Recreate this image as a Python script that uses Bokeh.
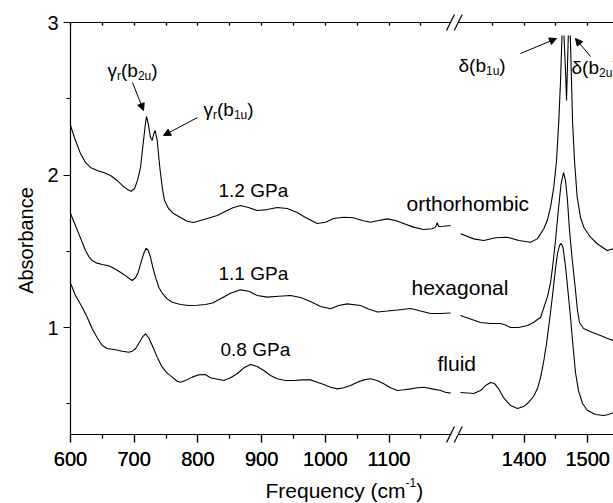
import math
from bokeh.plotting import figure
from bokeh.models import Range1d, LinearAxis, FixedTicker, Label, Arrow, NormalHead
from bokeh.embed import file_html
from bokeh.resources import INLINE

nan = float("nan")

# ---------------- data (frequency in cm^-1, absorbance) ----------------
# the axis skips 1202..1290 cm^-1
GAP = 88
BREAK = 1202

ortho_lo_x = [600, 607.8, 615.7, 623.5, 631.4, 641.9, 651.8, 662.8, 673.3, 681.2, 689.0, 695.3,
              700.5, 705.2, 709.9, 714.1, 717.3, 719.3, 722.0, 725.6, 728.3, 730.8, 733.0, 736.1,
              740.2, 744.0, 747.6, 753.9, 761.7, 772.7, 783.2, 793.1, 804.1, 814.6, 830.3, 846.0,
              855.9, 866.9, 879.4, 893.1, 908.8, 924.5, 940.2, 955.9, 968.9, 987.3, 1000.3,
              1012.9, 1028.6, 1044.3, 1058.0, 1071.0, 1083.5, 1097.2, 1110.2, 1122.8, 1138.5,
              1154.2, 1167.8, 1173.0, 1175.7, 1178.2, 1185.6, 1196.6]
ortho_lo_y = [2.325, 2.227, 2.141, 2.083, 2.050, 2.030, 2.017, 1.997, 1.965, 1.932, 1.906, 1.894,
              1.912, 1.965, 2.050, 2.207, 2.325, 2.384, 2.338, 2.246, 2.227, 2.273, 2.292, 2.227,
              2.050, 1.919, 1.833, 1.781, 1.748, 1.722, 1.698, 1.689, 1.702, 1.716, 1.735, 1.768,
              1.788, 1.801, 1.788, 1.768, 1.774, 1.788, 1.781, 1.755, 1.722, 1.683, 1.691,
              1.716, 1.724, 1.720, 1.702, 1.691, 1.702, 1.713, 1.702, 1.683, 1.659,
              1.643, 1.648, 1.659, 1.688, 1.663, 1.665, 1.670]
ortho_hi_x = [1300.3, 1321.1, 1336.8, 1355.2, 1373.6, 1391.8, 1410.2, 1420.7, 1425.9, 1431.0,
              1436.4, 1441.6, 1446.7, 1451.0, 1454.6, 1457.3, 1459.6, nan, 1462.7, 1465.1, 1466.7,
              1468.2, 1469.5, nan, 1472.6, 1474.5, 1476.1, 1479.2, 1483.4, 1488.6, 1493.8, 1504.3,
              1514.8, 1530.5, 1540.5]
ortho_hi_y = [1.615, 1.582, 1.571, 1.589, 1.593, 1.571, 1.560, 1.582, 1.615, 1.648,
              1.702, 1.790, 1.921, 2.096, 2.358, 2.620, 2.915, nan, 2.915, 2.685, 2.489,
              2.718, 2.915, nan, 2.915, 2.620, 2.358, 2.096, 1.855, 1.724, 1.658, 1.593,
              1.550, 1.506, 1.517]

hexa_lo_x = [600, 607.8, 613.0, 618.4, 623.5, 628.7, 634.1, 641.9, 649.8, 660.1, 668.0, 675.8,
             683.7, 691.5, 696.9, 702.0, 706.3, 711.5, 715.7, 718.8, 722.0, 725.6, 729.2, 733.4,
             738.6, 744.0, 751.8, 759.7, 772.7, 785.7, 798.9, 811.9, 822.9, 835.5, 851.2, 866.9,
             879.9, 893.1, 908.8, 927.0, 945.4, 961.1, 976.8, 992.5, 1008.2, 1020.7, 1034.4,
             1055.3, 1067.8, 1082.0, 1097.7, 1113.4, 1133.8, 1149.5, 1165.2, 1180.9, 1196.6]
hexa_lo_y = [1.748, 1.670, 1.615, 1.560, 1.506, 1.466, 1.440, 1.423, 1.414, 1.406, 1.390, 1.370,
             1.349, 1.324, 1.309, 1.327, 1.364, 1.440, 1.495, 1.521, 1.506, 1.462, 1.396, 1.331,
             1.265, 1.226, 1.189, 1.167, 1.152, 1.145, 1.147, 1.152, 1.162, 1.189, 1.226, 1.248,
             1.239, 1.211, 1.200, 1.206, 1.211, 1.198, 1.172, 1.139, 1.124, 1.145, 1.156,
             1.145, 1.122, 1.103, 1.109, 1.116, 1.126, 1.109, 1.093, 1.093, 1.096]
hexa_hi_x = [1300.3, 1316.0, 1331.7, 1347.4, 1363.1, 1370.9, 1378.8, 1391.3, 1405.4, 1414.9,
             1421.1, 1425.9, 1432.1, 1436.8, 1441.6, 1444.7, 1449.4, 1454.1, 1458.0, 1462.0,
             1465.1, 1468.2, 1471.4, 1476.1, 1480.8, 1483.9, 1487.1, 1493.4, 1507.5, 1520.0,
             1531.0, 1540.5]
hexa_hi_y = [1.080, 1.057, 1.034, 1.027, 1.027, 1.018, 1.001, 1.001, 1.014, 1.034,
             1.054, 1.067, 1.145, 1.204, 1.296, 1.394, 1.571, 1.781, 1.938, 2.017,
             1.965, 1.834, 1.637, 1.427, 1.244, 1.113, 1.034, 0.995, 0.968, 0.949,
             0.929, 0.916]

fluid_lo_x = [600, 601.6, 607.8, 618.4, 626.2, 634.1, 641.9, 649.8, 657.6, 670.6, 681.2, 691.5,
              696.9, 702.0, 708.3, 713.5, 717.7, 722.9, 728.3, 736.1, 744.0, 751.8, 759.7, 767.5,
              772.7, 780.5, 791.1, 801.4, 811.5, 819.8, 840.7, 851.2, 861.7, 872.1, 882.6, 893.1,
              903.5, 914.0, 924.5, 937.5, 950.6, 963.8, 976.8, 987.3, 997.7, 1008.2, 1018.7,
              1029.1, 1039.6, 1050.1, 1060.5, 1071.0, 1081.5, 1091.8, 1102.4, 1112.9, 1123.2,
              1133.8, 1144.3, 1154.6, 1167.8, 1180.9, 1188.7, 1196.6]
fluid_lo_y = [1.290, 1.276, 1.211, 1.134, 1.069, 0.993, 0.934, 0.883, 0.864, 0.855, 0.846, 0.839,
              0.846, 0.862, 0.905, 0.942, 0.960, 0.934, 0.883, 0.807, 0.741, 0.702, 0.676, 0.649,
              0.643, 0.654, 0.676, 0.691, 0.693, 0.672, 0.654, 0.672, 0.698, 0.737, 0.759, 0.746,
              0.719, 0.687, 0.665, 0.654, 0.654, 0.658, 0.658, 0.643, 0.628, 0.610, 0.599,
              0.606, 0.621, 0.643, 0.658, 0.665, 0.654, 0.632, 0.606, 0.588, 0.593,
              0.599, 0.606, 0.610, 0.599, 0.588, 0.577, 0.571]
fluid_hi_x = [1300.3, 1311.3, 1321.0, 1331.7, 1339.5, 1347.4, 1353.6, 1359.9, 1367.8, 1378.8,
              1389.7, 1399.2, 1407.0, 1414.9, 1421.1, 1425.9, 1430.6, 1435.3, 1440.0, 1444.7,
              1449.4, 1452.5, 1455.7, 1458.3, 1461.2, 1465.1, 1469.0, 1473.0, 1476.9, 1480.8,
              1485.5, 1491.8, 1499.6, 1512.2, 1524.8, 1532.6, 1540.5]
fluid_hi_y = [0.575, 0.572, 0.569, 0.588, 0.621, 0.641, 0.634, 0.601, 0.542, 0.490,
              0.470, 0.483, 0.510, 0.549, 0.601, 0.673, 0.772, 0.896, 1.047, 1.211,
              1.388, 1.486, 1.539, 1.552, 1.525, 1.401, 1.237, 1.067, 0.877, 0.706,
              0.588, 0.503, 0.457, 0.431, 0.424, 0.431, 0.444]

x_major = [600, 700, 800, 900, 1000, 1100, 1400, 1500]
x_minor = [650, 750, 850, 950, 1050, 1150, 1350, 1450]
y_major = [1, 2, 3]
y_minor = [0.5, 1.5, 2.5]

# ---------------- layout ----------------
FONT = "Liberation Sans"
W, H = 613, 503
FL, FR, FT, FB = 70, 613, 22, 434       # plot area inside the picture, px
YS0, YS1 = 0.3, 3.0
U_START = 600
PXU = 0.637                              # px per cm^-1
BRK_PX = 454
TXT_DY = 7                               # baseline correction for labels, px


def u(x):
    return x if x <= BREAK else x - GAP


def ux(px):
    return U_START + (px - FL) / PXU


def vy(py):
    return YS0 + (FB - py) * (YS1 - YS0) / (FB - FT)


U_END = ux(FR)

# the frame covers the whole picture; axes are pinned at the plot-area edges
p = figure(width=W, height=H, x_range=Range1d(ux(0), ux(W)), y_range=Range1d(vy(H), vy(0)),
           output_backend="svg", toolbar_location=None, min_border=0)
p.outline_line_color = None
p.grid.visible = False
p.background_fill_color = "white"
p.border_fill_color = "white"

for xs, ys in [(ortho_lo_x, ortho_lo_y), (ortho_hi_x, ortho_hi_y),
               (hexa_lo_x, hexa_lo_y), (hexa_hi_x, hexa_hi_y),
               (fluid_lo_x, fluid_lo_y), (fluid_hi_x, fluid_hi_y)]:
    p.line([u(x) if not math.isnan(x) else nan for x in xs], ys, line_color="black", line_width=1.1)

xt = FixedTicker(ticks=[u(v) for v in x_major], minor_ticks=[u(v) for v in x_minor])
labels_x = {u(v): str(v) for v in x_major}
blank_x = {u(v): "" for v in x_major}
seg_bounds = [(U_START, ux(BRK_PX - 4)), (ux(BRK_PX + 3.7), U_END)]


def style(a):
    a.axis_line_color = "black"
    a.axis_line_width = 1.2
    a.major_tick_line_color = "black"
    a.minor_tick_line_color = "black"
    a.major_tick_line_width = 1.2
    a.minor_tick_line_width = 1.2
    a.major_label_text_font = FONT
    a.major_label_text_font_size = "20px"
    a.major_label_text_color = "black"
    a.major_label_standoff = 5


# bottom axis, in two pieces
bottoms = [p.xaxis[0], LinearAxis()]
for a, b in zip(bottoms, seg_bounds):
    style(a)
    a.ticker = xt
    a.fixed_location = YS0
    a.bounds = b
    a.major_label_overrides = labels_x
    a.major_label_standoff = 9
    a.major_tick_out, a.major_tick_in = 8, 0
    a.minor_tick_out, a.minor_tick_in = 4, 0
p.add_layout(bottoms[1], "below")

# top axis, in two pieces, ticks inward, no labels
for b in seg_bounds:
    a = LinearAxis()
    style(a)
    a.ticker = xt
    a.fixed_location = YS1
    a.bounds = b
    a.major_label_overrides = blank_x
    a.major_label_text_font_size = "0px"
    a.major_tick_out, a.major_tick_in = 0, 3
    a.minor_tick_out, a.minor_tick_in = 0, 3
    p.add_layout(a, "above")

ay = p.yaxis[0]
style(ay)
ay.ticker = FixedTicker(ticks=y_major, minor_ticks=y_minor)
ay.fixed_location = U_START
ay.bounds = (YS0, YS1)
ay.major_tick_out, ay.major_tick_in = 7, 0
ay.minor_tick_out, ay.minor_tick_in = 4, 0

# break marks "//" on both horizontal axes
bx0, by0, bx1, by1 = [], [], [], []
for ya in (FB, FT):
    for dx in (-8, -0.3):
        bx0.append(ux(BRK_PX + dx))
        by0.append(vy(ya + 8))
        bx1.append(ux(BRK_PX + dx + 8))
        by1.append(vy(ya - 8))
p.segment(x0=bx0, y0=by0, x1=bx1, y1=by1, line_color="black", line_width=1.2)

CW = {'γ': 0.5, 'δ': 0.556, '(': 0.333, ')': 0.333, 'b': 0.556, 'r': 0.333, 'u': 0.556,
      '1': 0.556, '2': 0.556, '-': 0.333, 'c': 0.5, 'm': 0.833, 'F': 0.611, 'e': 0.556,
      'q': 0.556, 'n': 0.556, 'y': 0.5, ' ': 0.278}


def rich(parts, px, py):
    x = px
    for t, size, dy in parts:
        p.add_layout(Label(x=ux(x), y=vy(py - dy - TXT_DY), text=t, text_font=FONT,
                           text_font_size=f"{size}px", text_color="black",
                           text_baseline="alphabetic", text_align="left"))
        x += sum(CW.get(c, 0.556) for c in t) * size


def plain(t, px, py, size=20):
    rich([(t, size, 0)], px, py)


def sub_label(greek, sub1, sub2, px, py):
    rich([(greek, 19, 0), (sub1, 12, -5), ("(b", 19, 0), (sub2, 12, -5), (")", 19, 0)], px, py)


sub_label("γ", "r", "2u", 107, 77)
sub_label("γ", "r", "1u", 203, 116)
rich([("δ", 19, 0), ("(b", 19, 0), ("1u", 12, -5), (")", 19, 0)], 458, 72)
rich([("δ", 19, 0), ("(b", 19, 0), ("2u", 12, -5), (")", 19, 0)], 571, 74)

head = dict(size=7, fill_color="black", line_color="black")
for (x0, y0, x1, y1) in [(132, 82, 143, 110), (197, 117, 163, 135),
                         (520, 53, 556, 38), (590, 56, 575, 38)]:
    p.add_layout(Arrow(end=NormalHead(**head), x_start=ux(x0), y_start=vy(y0),
                       x_end=ux(x1), y_end=vy(y1), line_color="black", line_width=1))

plain("1.2 GPa", 218, 197, 19)
plain("1.1 GPa", 218, 280, 19)
plain("0.8 GPa", 220, 356, 19)
plain("orthorhombic", 406, 210, 21)
plain("hexagonal", 411, 294, 21)
plain("fluid", 437, 370, 21)

rich([("Frequency (cm", 21, 0), ("-1", 12, 8), (")", 21, 0)], 265, 497)
p.add_layout(Label(x=ux(32 - TXT_DY), y=vy(240), text="Absorbance", text_font=FONT,
                   text_font_size="20px", text_color="black", text_baseline="alphabetic",
                   text_align="center", angle=math.pi / 2))

open("out.html", "w").write(file_html(p, INLINE))
